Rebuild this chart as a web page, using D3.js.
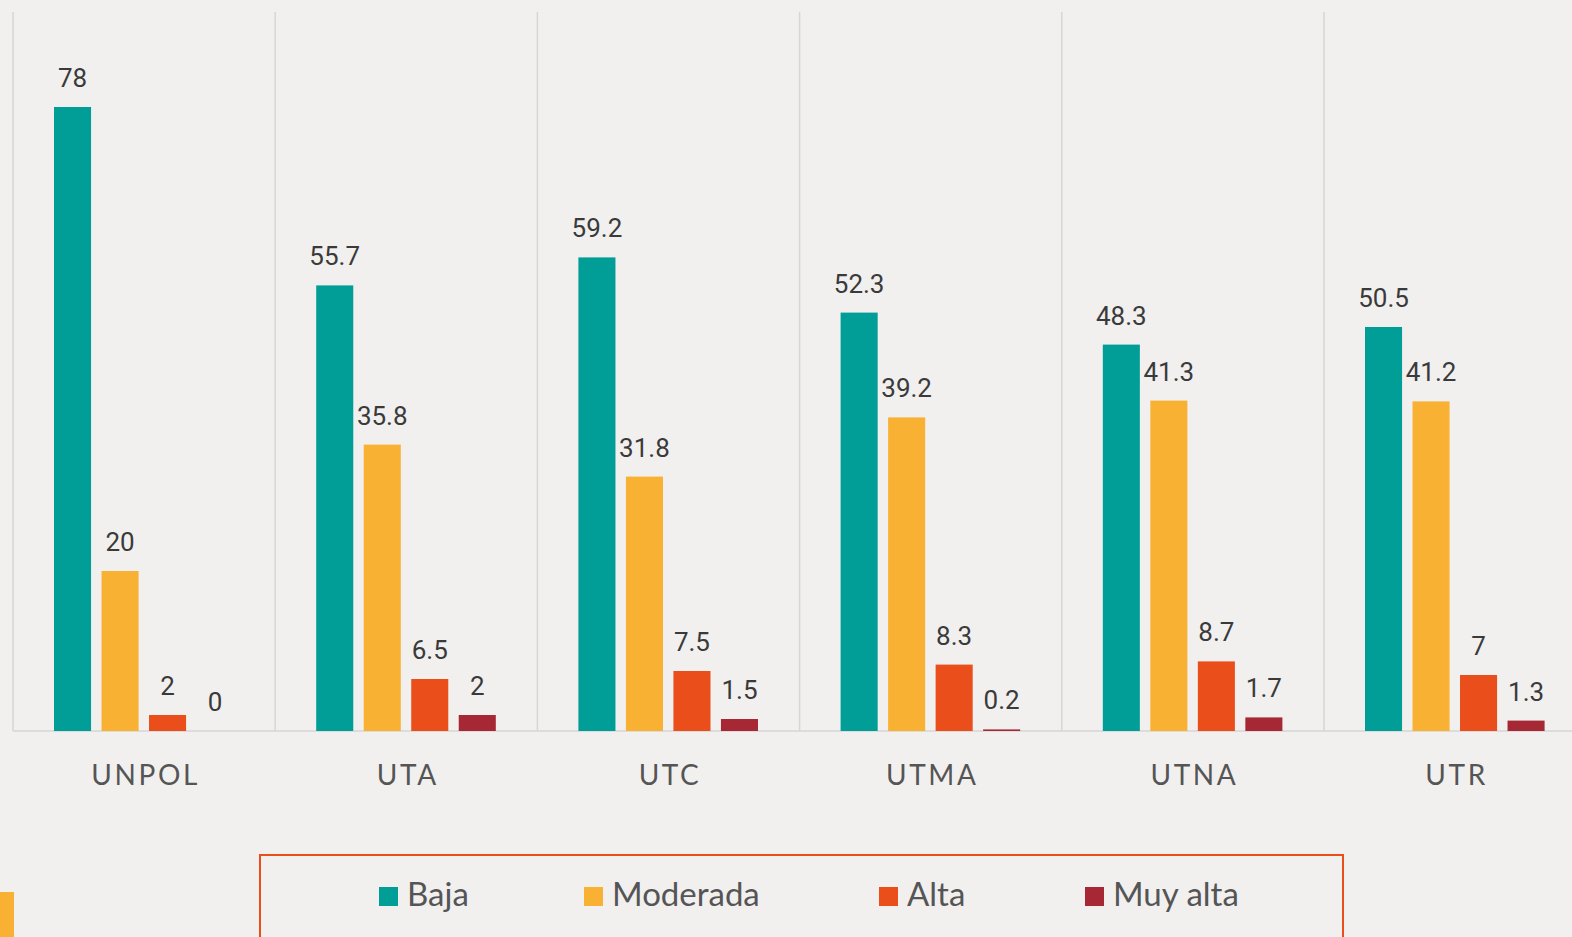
<!DOCTYPE html>
<html>
<head>
<meta charset="utf-8">
<script src="https://cdn.jsdelivr.net/npm/d3@7"></script>
<style>
  html, body { margin: 0; padding: 0; background: #f1f0ef; overflow: hidden; }
</style>
</head>
<body>
<div id="chart"></div>
<script>
const categories = ["UNPOL", "UTA", "UTC", "UTMA", "UTNA", "UTR"]
const series = ["Baja", "Moderada", "Alta", "Muy alta"]
const baja = [78, 55.7, 59.2, 52.3, 48.3, 50.5]
const moderada = [20, 35.8, 31.8, 39.2, 41.3, 41.2]
const alta = [2, 6.5, 7.5, 8.3, 8.7, 7]
const muyAlta = [0, 2, 1.5, 0.2, 1.7, 1.3]
const colors = ["#009e96", "#f8b133", "#e94e1b", "#a52834"]

const values = [baja, moderada, alta, muyAlta]
const data = categories.map((c, i) => ({
  category: c,
  items: series.map((s, j) => ({ series: s, value: values[j][i] }))
}))

const dimensions = { width: 1572, height: 937 }
const baseline = 731

const svg = d3.select("#chart").append("svg")
    .attr("width", dimensions.width)
    .attr("height", dimensions.height)

/* Scales */
const xScale = d3.scaleBand()
    .domain(categories)
    .range([13, 13 + 6 * 262.2])

const innerScale = d3.scaleBand()
    .domain(series)
    .range([41, 220.6])
    .paddingInner(0.22)

const yScale = d3.scaleLinear()
    .domain([0, 90])
    .range([baseline, 11])

const color = d3.scaleOrdinal().domain(series).range(colors)

/* Gridlines between categories */
svg.append("g").selectAll("line")
  .data(categories)
  .enter().append("line")
    .attr("x1", d => xScale(d))
    .attr("x2", d => xScale(d))
    .attr("y1", 12)
    .attr("y2", baseline)
    .attr("stroke", "#d6d6d6")
    .attr("stroke-width", 1.5)

/* Baseline */
svg.append("line")
    .attr("x1", xScale.range()[0])
    .attr("x2", dimensions.width)
    .attr("y1", baseline)
    .attr("y2", baseline)
    .attr("stroke", "#d6d6d6")
    .attr("stroke-width", 1.5)

/* Bars */
const groups = svg.append("g").selectAll("g")
  .data(data)
  .enter().append("g")
    .attr("transform", d => `translate(${xScale(d.category)},0)`)

groups.selectAll("rect")
  .data(d => d.items)
  .enter().append("rect")
    .attr("x", d => innerScale(d.series))
    .attr("y", d => yScale(d.value))
    .attr("width", innerScale.bandwidth())
    .attr("height", d => baseline - yScale(d.value))
    .attr("fill", d => color(d.series))

groups.selectAll("text.value")
  .data(d => d.items)
  .enter().append("text")
    .attr("class", "value")
    .attr("x", d => innerScale(d.series) + innerScale.bandwidth() / 2)
    .attr("y", d => yScale(d.value) - 20)
    .attr("text-anchor", "middle")
    .attr("fill", "#3a3a3a")
    .style("font-family", "Roboto, sans-serif")
    .style("font-size", "26px")
    .text(d => d.value)

/* Category labels */
svg.append("g").selectAll("text")
  .data(categories)
  .enter().append("text")
    .attr("x", d => xScale(d) + xScale.bandwidth() / 2 + 1.5)
    .attr("y", 785)
    .attr("text-anchor", "middle")
    .attr("fill", "#555")
    .style("font-family", "Lato, sans-serif")
    .style("font-size", "28px")
    .style("letter-spacing", "2.6px")
    .text(d => d)

/* Legend */
svg.append("rect")
    .attr("x", 260)
    .attr("y", 855)
    .attr("width", 1083)
    .attr("height", 120)
    .attr("fill", "none")
    .attr("stroke", "#e94e1b")
    .attr("stroke-width", 2)

const legendX = d3.scaleOrdinal().domain(series).range([379, 584, 879, 1085])

const legend = svg.append("g").selectAll("g")
  .data(series)
  .enter().append("g")
    .attr("transform", d => `translate(${legendX(d)},887)`)

legend.append("rect")
    .attr("width", 19)
    .attr("height", 19)
    .attr("fill", d => color(d))

legend.append("text")
    .attr("x", 28)
    .attr("y", 19)
    .attr("fill", "#555")
    .style("font-family", "Lato, sans-serif")
    .style("font-size", "33px")
    .text(d => d)

/* Corner accent */
svg.append("rect")
    .attr("x", 0)
    .attr("y", 892)
    .attr("width", 14)
    .attr("height", 45)
    .attr("fill", "#f8b133")
</script>
</body>
</html>
